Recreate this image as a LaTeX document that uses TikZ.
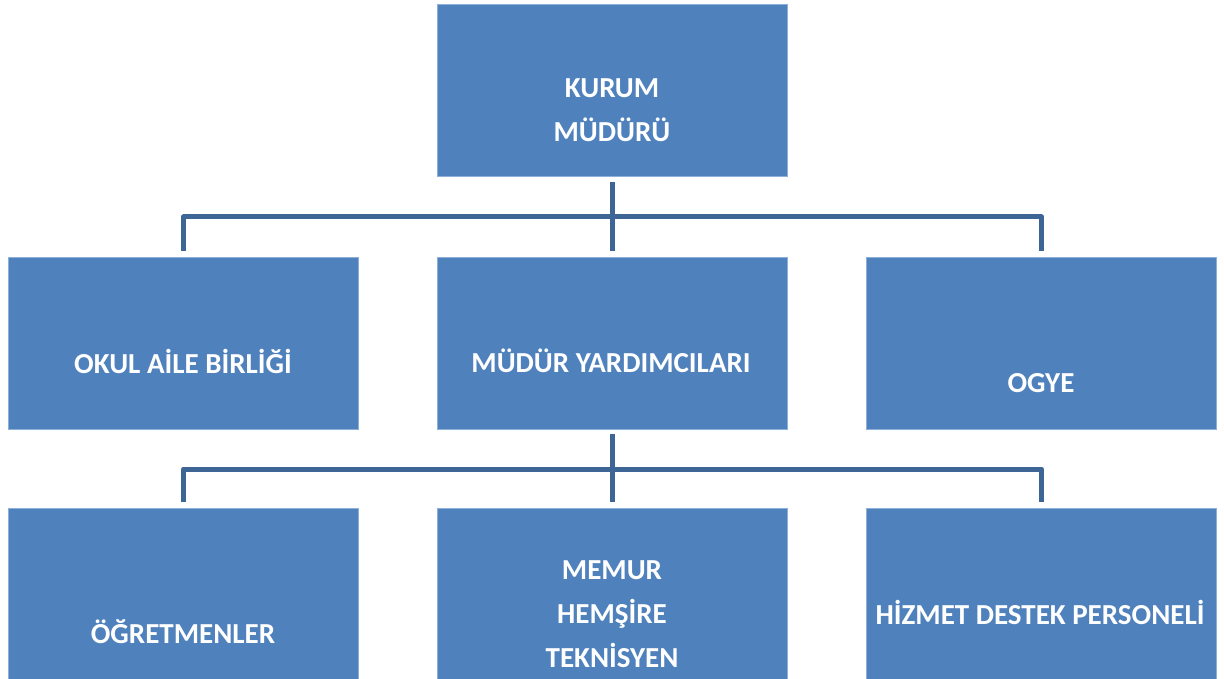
\documentclass[tikz,border=0pt]{standalone}
\usepackage{fontspec}
\setmainfont{Carlito}
\definecolor{boxfill}{HTML}{4F81BD}
\definecolor{boxline}{HTML}{8DB0DA}
\definecolor{connline}{HTML}{3D6697}
\begin{document}
\begin{tikzpicture}[x=1pt,y=-1pt,
  orgbox/.style={rectangle,fill=boxfill,draw=boxline,line width=0.8pt,minimum width=350pt,minimum height=172pt,inner sep=0pt,anchor=north west},
  orgtext/.style={text=white,font=\fontsize{29}{44}\selectfont\bfseries,align=center,inner sep=0pt,anchor=center},
  conn/.style={draw=connline,line width=5pt,line join=round}]
\useasboundingbox (0,0) rectangle (1224,679);
\fill[white] (0,0) rectangle (1224,679);
% boxes
\node[orgbox] (kurum) at (437,4) {};
\node[orgbox] (oab) at (8,257) {};
\node[orgbox] (myard) at (437,257) {};
\node[orgbox] (ogye) at (866,257) {};
\node[orgbox] (ogret) at (8,508) {};
\node[orgbox] (memur) at (437,508) {};
\node[orgbox] (hizmet) at (866,508) {};
% texts
\node[orgtext] (t1) at (612,110) {KURUM\\MÜDÜRÜ};
\node[orgtext] (t2) at (183,361) {OKUL AİLE BİRLİĞİ};
\node[orgtext] (t3) at (611,361) {MÜDÜR YARDIMCILARI};
\node[orgtext] (t4) at (1041,383) {OGYE};
\node[orgtext] (t5) at (183,632) {ÖĞRETMENLER};
\node[orgtext] (t6) at (612,614) {MEMUR\\HEMŞİRE\\TEKNİSYEN};
\node[orgtext] (t7) at (1040,612) {HİZMET DESTEK PERSONELİ};
% connectors
\coordinate (bus1) at (612,217);
\coordinate (bus2) at (612,469);
\draw[conn] ([yshift=-5pt]kurum.south) -- ([yshift=6pt]myard.north);
\draw[conn] ([yshift=6pt]oab.north) |- (bus1) -| ([yshift=6pt]ogye.north);
\draw[conn] ([yshift=-4pt]myard.south) -- ([yshift=6pt]memur.north);
\draw[conn] ([yshift=6pt]ogret.north) |- (bus2) -| ([yshift=6pt]hizmet.north);
\end{tikzpicture}
\end{document}
